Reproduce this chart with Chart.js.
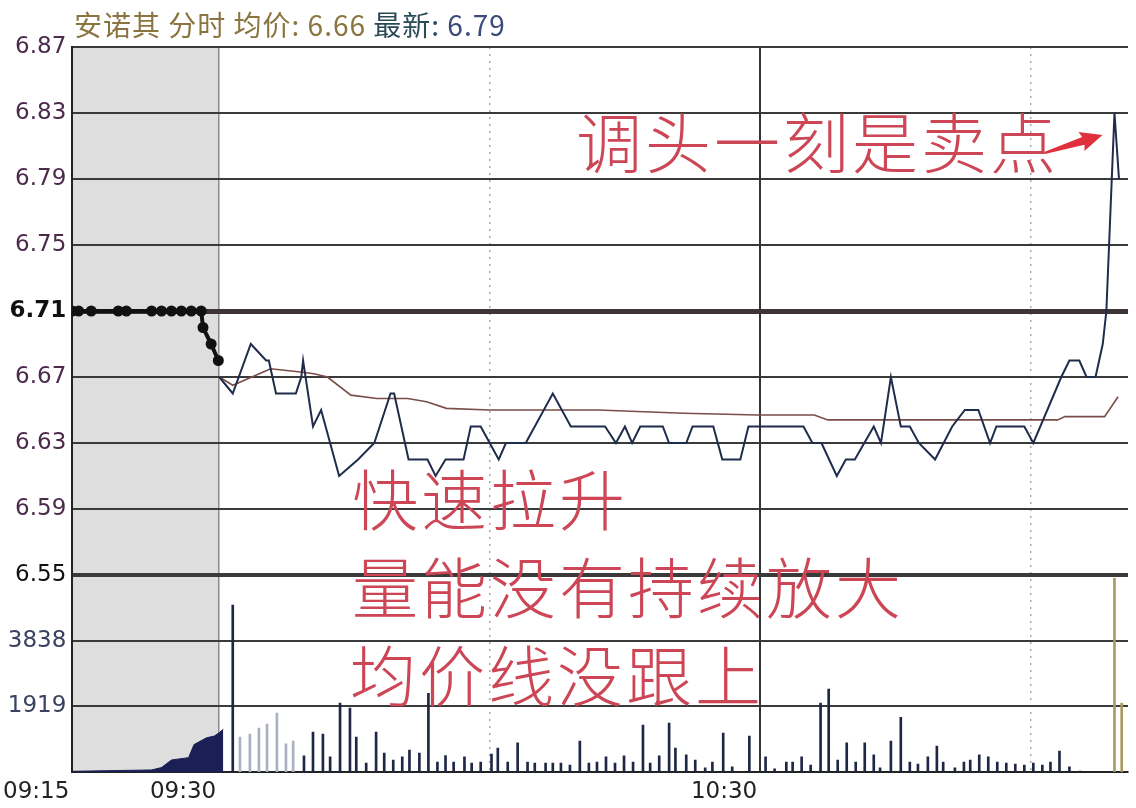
<!DOCTYPE html>
<html>
<head>
<meta charset="utf-8">
<script src="https://cdn.jsdelivr.net/npm/chart.js@4.4.1/dist/chart.umd.min.js"></script>
<style>
  html, body { margin: 0; padding: 0; background: #fff; }
  #wrap { position: relative; width: 1136px; height: 808px; overflow: hidden; }
  #chart { position: absolute; left: 0; top: 0; }
  .hdr { position: absolute; left: 74px; top: 4px; font: 28px "Noto Sans CJK SC", sans-serif; letter-spacing: 1px; white-space: nowrap; color: #8a7440; }
  .hdr .k { color: #2a4a58; }
  .hdr .v { color: #3a4a7a; }
  .note { position: absolute; font: 300 66px/66px "Noto Sans CJK SC", sans-serif; color: #cc4656; letter-spacing: 3px; white-space: nowrap; }
</style>
</head>
<body>
<div id="wrap">
  <canvas id="chart" width="1136" height="808"></canvas>
  <div class="hdr">安诺其 分时 均价: 6.66 <span class="k">最新:</span> <span class="v">6.79</span></div>
  <div class="note" style="left:576px; top:106px;">调头一刻是卖点</div>
  <div class="note" style="left:352px; top:463px;">快速拉升</div>
  <div class="note" style="left:352px; top:551px;">量能没有持续放大</div>
  <div class="note" style="left:350px; top:639px;">均价线没跟上</div>
</div>
<script>
// minutes after 09:30; the pre-open auction slot starts at 09:15
const preOpenStart = -16.3;
const lastMinute = 100.8;
const prevClose = 6.71;

const timeTicks = [preOpenStart, 0, 30, 60, 90];
const timeLabels = ['09:15', '09:30', '', '10:30', ''];
const priceTicks = [6.55, 6.59, 6.63, 6.67, 6.71, 6.75, 6.79, 6.83, 6.87];
const volTicks = [1919, 3838];

// auction (09:15 - 09:30)
const auctionTimes = [-16.3, -15.6, -14.2, -11.2, -10.3, -7.5, -6.4, -5.3, -4.2, -3.1, -2.0, -1.8, -0.9, -0.1];
const auctionPrices = [6.71, 6.71, 6.71, 6.71, 6.71, 6.71, 6.71, 6.71, 6.71, 6.71, 6.71, 6.70, 6.69, 6.68];
const auctionVolTimes = [-16.3, -7.5, -6.4, -5.3, -3.4, -2.8, -1.4, -0.55, 0, 0.45];
const auctionVols = [20, 60, 130, 350, 420, 800, 1000, 1050, 1150, 1250];

// price line
const priceTimes = [0, 1.5, 3.5, 5.2, 5.5, 6.3, 8.5, 9.1, 9.3, 10.4, 11.3, 13.3, 15.4, 17.2, 19, 19.4, 21, 23.1, 24, 25.1,
  27.1, 27.9, 29, 31, 31.8, 34, 37, 39, 42.8, 44, 45, 45.8, 46.7, 49.2, 49.9, 51.8, 52.5, 54.8, 55.8, 57.8,
  58.7, 64.8, 65.8, 66.8, 68.5, 69.5, 70.5, 72.6, 73.4, 74.5, 75.6, 76.6, 77.6, 79.4, 81.3, 82.7, 84.2, 85.5, 86.2, 89.3,
  90.3, 93.4, 94.3, 95.4, 96.2, 97.2, 98, 98.4, 98.7, 99, 99.3, 99.8];
const prices = [6.67, 6.66, 6.69, 6.68, 6.68, 6.66, 6.66, 6.67, 6.68, 6.64, 6.65, 6.61, 6.62, 6.63, 6.66, 6.66, 6.62, 6.62, 6.61, 6.62,
  6.62, 6.64, 6.64, 6.62, 6.63, 6.63, 6.66, 6.64, 6.64, 6.63, 6.64, 6.63, 6.64, 6.64, 6.63, 6.63, 6.64, 6.64, 6.62, 6.62,
  6.64, 6.64, 6.63, 6.63, 6.61, 6.62, 6.62, 6.64, 6.63, 6.67, 6.64, 6.64, 6.63, 6.62, 6.64, 6.65, 6.65, 6.63, 6.64, 6.64,
  6.63, 6.67, 6.68, 6.68, 6.67, 6.67, 6.69, 6.71, 6.75, 6.79, 6.83, 6.79];

// average price line
const avgTimes = [0, 1.5, 5.7, 9, 10.5, 12, 14.6, 17.5, 20.9, 23, 25.2, 30, 42, 51.5, 59.7, 66, 67.5, 93, 93.8, 98.2, 99.7];
const avgPrices = [6.670, 6.665, 6.675, 6.673, 6.672, 6.670, 6.659, 6.657, 6.657, 6.655, 6.651, 6.650, 6.650, 6.648, 6.647,
  6.647, 6.644, 6.644, 6.646, 6.646, 6.658];

// volume per minute
const volTimes = [1.5, 2.3, 3.4, 4.4, 5.3, 6.4, 7.4, 8.2, 9.4, 10.4, 11.5, 12.3, 13.4, 14.5, 15.2, 16.3, 17.4, 18.3, 19.3, 20.3,
  21.1, 22.2, 23.2, 24.2, 25.1, 26.0, 27.2, 28.0, 29.0, 30.2, 30.9, 32.0, 33.1, 34.2, 35.0, 36.2, 37.0, 37.9, 38.9, 40.0,
  41.0, 41.9, 42.9, 43.9, 44.9, 45.9, 47.0, 47.8, 48.8, 49.9, 50.6, 51.8, 52.8, 53.9, 54.7, 55.9, 56.9, 58.8, 60.6, 61.6,
  62.9, 63.6, 64.6, 65.6, 66.7, 67.6, 68.6, 69.6, 70.6, 71.6, 72.6, 73.3, 74.5, 75.6, 76.6, 77.5, 78.6, 79.6, 80.3, 81.6,
  82.6, 83.3, 84.3, 85.3, 86.3, 87.3, 88.3, 89.3, 90.3, 91.3, 92.2, 93.2, 94.3, 95.5, 99.3, 100.1];
const volumes = [4877, 1020, 1110, 1285, 1400, 1720, 820, 905, 470, 1170, 1110, 440, 2015, 1870, 1020, 260, 1170, 555, 350, 440,
  640, 555, 2300, 290, 480, 290, 440, 260, 290, 525, 700, 290, 850, 290, 260, 260, 260, 260, 200, 905,
  260, 290, 440, 260, 470, 290, 1370, 260, 470, 1430, 700, 500, 350, 120, 290, 1140, 150, 1050, 440, 90,
  290, 290, 440, 200, 2015, 2420, 350, 850, 290, 850, 500, 120, 905, 1600, 290, 230, 440, 760, 290, 120,
  290, 350, 500, 440, 290, 260, 230, 200, 260, 200, 290, 610, 150, 30, 5660, 2015];

const pts = (xs, ys) => xs.map((x, i) => ({ x: x, y: ys[i] }));
const near = (a, b) => Math.abs(a - b) < 1e-6;

const shadePlugin = {
  id: 'shade',
  beforeDraw(chart) {
    const { ctx, chartArea, scales } = chart;
    const x0 = scales.x.getPixelForValue(preOpenStart);
    const x1 = scales.x.getPixelForValue(0);
    ctx.save();
    ctx.fillStyle = '#dedede';
    ctx.fillRect(x0, chartArea.top, x1 - x0, chartArea.bottom - chartArea.top);
    ctx.restore();
  }
};

// red arrow pointing at the top of the spike
const arrowPlugin = {
  id: 'arrow',
  afterDraw(chart) {
    const { ctx, scales } = chart;
    const top = prices.indexOf(Math.max(...prices));
    const px = scales.x.getPixelForValue(priceTimes[top]);
    const py = scales.y.getPixelForValue(prices[top]);
    const tail = { x: px - 70, y: py + 40 };
    const tip = { x: px - 12, y: py + 22 };
    const ang = Math.atan2(tip.y - tail.y, tip.x - tail.x);
    const len = Math.hypot(tip.x - tail.x, tip.y - tail.y);
    ctx.save();
    ctx.fillStyle = '#e0303c';
    ctx.translate(tail.x, tail.y);
    ctx.rotate(ang);
    ctx.beginPath();
    ctx.moveTo(0, -1);
    ctx.lineTo(len - 20, -4);
    ctx.lineTo(len - 22, -10);
    ctx.lineTo(len, 0);
    ctx.lineTo(len - 22, 10);
    ctx.lineTo(len - 20, 4);
    ctx.lineTo(0, 1);
    ctx.closePath();
    ctx.fill();
    ctx.restore();
  }
};

const volColor = (c) => {
  const v = c.raw ? c.raw.x : 0;
  if (v > 99) return '#a89a62';
  if (v > 2 && v < 9) return '#a8b2c2';
  return '#1e2846';
};

new Chart(document.getElementById('chart'), {
  type: 'line',
  data: {
    datasets: [
      {
        label: 'auction',
        data: pts(auctionTimes, auctionPrices),
        yAxisID: 'y',
        borderColor: '#111',
        backgroundColor: '#111',
        borderWidth: 4,
        pointRadius: 3.5,
        order: 0
      },
      {
        label: 'price',
        data: pts(priceTimes, prices),
        yAxisID: 'y',
        borderColor: '#1f2c4c',
        borderWidth: 2,
        pointRadius: 0,
        order: 1
      },
      {
        label: 'avg',
        data: pts(avgTimes, avgPrices),
        yAxisID: 'y',
        borderColor: '#7a4e48',
        borderWidth: 1.6,
        pointRadius: 0,
        order: 2
      },
      {
        label: 'auction volume',
        data: pts(auctionVolTimes, auctionVols),
        yAxisID: 'yv',
        borderColor: '#1a1f55',
        backgroundColor: '#1a1f55',
        borderWidth: 1,
        pointRadius: 0,
        fill: 'origin',
        order: 4
      },
      {
        type: 'bar',
        label: 'volume',
        data: pts(volTimes, volumes),
        yAxisID: 'yv',
        backgroundColor: volColor,
        barThickness: 2,
        order: 5
      }
    ]
  },
  options: {
    responsive: false,
    animation: false,
    layout: { padding: { top: 47, right: 0, left: 0, bottom: 0 } },
    plugins: { legend: { display: false }, tooltip: { enabled: false } },
    scales: {
      x: {
        type: 'linear',
        min: preOpenStart,
        max: lastMinute,
        offset: false,
        afterBuildTicks: (s) => { s.ticks = timeTicks.map(v => ({ value: v })); },
        afterFit: (s) => { s.height = 36; },
        ticks: {
          autoSkip: false,
          maxRotation: 0,
          align: 'end',
          labelOffset: -3,
          padding: 6,
          color: '#222',
          font: { family: 'DejaVu Sans', size: 23 },
          callback: (v, i) => timeLabels[i]
        },
        grid: {
          offset: false,
          drawTicks: false,
          color: (c) => {
            const v = c.tick ? c.tick.value : null;
            if (v === 0) return '#8c8c8c';
            if (v === 60) return '#333';
            if (v === 30 || v === 90) return '#a8a8a8';
            return 'rgba(0,0,0,0)';
          },
          lineWidth: (c) => (c.tick && c.tick.value === 60 ? 2 : 1.5)
        },
        border: {
          display: true,
          color: '#222',
          width: 2,
          dash: (c) => (c.tick && (c.tick.value === 30 || c.tick.value === 90) ? [2, 5] : [])
        }
      },
      yv: {
        type: 'linear',
        position: 'left',
        stack: 'tl',
        stackWeight: 197,
        min: 0,
        max: 5757,
        afterBuildTicks: (s) => { s.ticks = volTicks.map(v => ({ value: v })); },
        afterFit: (s) => { s.width = 71; },
        ticks: {
          padding: 6,
          callback: (v) => String(v),
          color: '#3a4262',
          font: { family: 'DejaVu Sans', size: 23 }
        },
        grid: { drawTicks: false, color: '#3a3a3a', lineWidth: 2 },
        border: { display: true, color: '#222', width: 2 }
      },
      y: {
        type: 'linear',
        position: 'left',
        stack: 'tl',
        stackWeight: 528,
        min: 6.55,
        max: 6.87,
        afterBuildTicks: (s) => { s.ticks = priceTicks.map(v => ({ value: v })); },
        afterFit: (s) => { s.width = 71; },
        ticks: {
          padding: 6,
          callback: (v) => v.toFixed(2),
          font: (c) => ({ family: 'DejaVu Sans', size: 23, weight: c.tick && near(c.tick.value, prevClose) ? 'bold' : 'normal' }),
          color: (c) => (c.tick && (near(c.tick.value, prevClose) || near(c.tick.value, 6.55)) ? '#111' : '#4c2a4c')
        },
        grid: {
          drawTicks: false,
          color: (c) => (c.tick && near(c.tick.value, prevClose) ? '#3e3434' : '#3a3a3a'),
          lineWidth: (c) => {
            if (!c.tick) return 2;
            if (near(c.tick.value, prevClose)) return 5;
            if (near(c.tick.value, 6.55)) return 4;
            return 2;
          }
        },
        border: { display: true, color: '#222', width: 2 }
      }
    }
  },
  plugins: [shadePlugin, arrowPlugin]
});
</script>
</body>
</html>
